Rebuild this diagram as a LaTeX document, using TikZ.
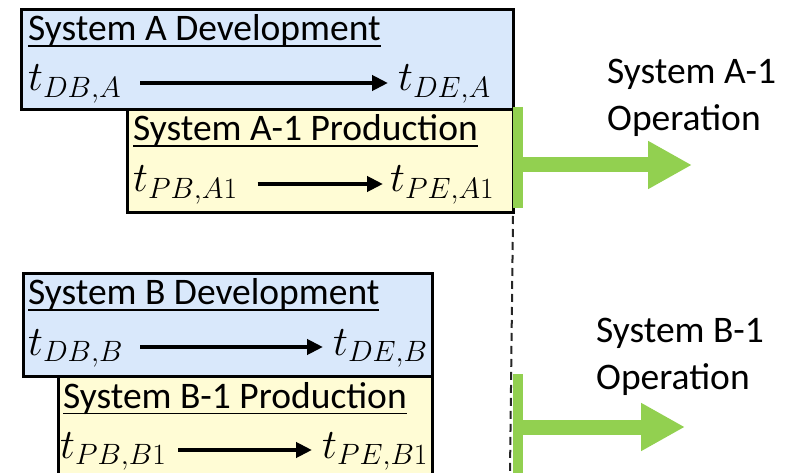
\documentclass[tikz,border=0pt]{standalone}
\usepackage{fix-cm}
\usepackage[no-math]{fontspec}
\setmainfont{Carlito}
\usetikzlibrary{arrows.meta}
% underlined heading, rule set close under the baseline
\newcommand{\rowtitle}[1]{\setbox0\hbox{#1}\rlap{\copy0}\rule[-6.3pt]{\wd0}{1.8pt}}
\tikzset{every node/.style={font=\fontsize{37.5}{45}\selectfont, inner sep=0pt}}
\definecolor{devcol}{RGB}{217,232,251}
\definecolor{prodcol}{RGB}{255,252,213}
\definecolor{opcol}{RGB}{146,208,80}
\colorlet{framecol}{black}
\colorlet{linecol}{black!85}

\tikzset{
  phase/.style={draw=framecol, line width=3pt, anchor=north west},
  devbox/.style={phase, fill=devcol},
  prodbox/.style={phase, fill=prodcol},
  title/.style={anchor=base west},
  stamp/.style={anchor=base west, font=\fontsize{42}{50}\selectfont},
  span/.style={-{Triangle[length=16pt,width=15pt]}, line width=4.5pt},
  opbar/.style={opcol, line width=10pt},
  oparrow/.style={opcol, line width=15pt, -{Triangle[length=44pt,width=45pt]}},
  oplabel/.style={align=left, anchor=north west, font=\fontsize{37.5}{46.5}\selectfont},
  timeline/.style={linecol, line width=2pt, dash pattern=on 8pt off 5pt}
}

\begin{document}
\begin{tikzpicture}[x=1pt, y=-1pt]

  \useasboundingbox (0,0) rectangle (793,473);
  \clip (0,0) rectangle (793,473);

  % System A: development and first production run.
  \node[devbox, minimum width=492, minimum height=100] (devA) at (20,8) {};
  \node[prodbox, minimum width=386, minimum height=103] (prodA) at (126,108) {};

  \node[title] (devAname) at (28,41) {\rowtitle{System A Development}};
  \node[stamp] (tDBA) at (28,91) {$t_{DB,A}$};
  \node[stamp] (tDEA) at (398,91) {$t_{DE,A}$};
  \draw[span, shorten <=19pt, shorten >=10pt]
    ([yshift=8pt]tDBA.base east) -- ([yshift=8pt]tDEA.base west);

  \node[title] (prodAname) at (133,141) {\rowtitle{System A-1 Production}};
  \node[stamp] (tPBA) at (133,192) {$t_{PB,A1}$};
  \node[stamp] (tPEA) at (390,192) {$t_{PE,A1}$};
  \draw[span, shorten <=20pt, shorten >=7pt]
    ([yshift=8pt]tPBA.base east) -- ([yshift=8pt]tPEA.base west);

  % System B: development and first production run.
  \node[devbox, minimum width=409, minimum height=103] (devB) at (22,272) {};
  \node[prodbox, minimum width=374, minimum height=130] (prodB) at (57,375) {};

  \node[title] (devBname) at (28,305) {\rowtitle{System B Development}};
  \node[stamp] (tDBB) at (28,355) {$t_{DB,B}$};
  \node[stamp] (tDEB) at (333,355) {$t_{DE,B}$};
  \draw[span, shorten <=17pt, shorten >=10pt]
    ([yshift=8pt]tDBB.base east) -- ([yshift=8pt]tDEB.base west);

  \node[title] (prodBname) at (63,408) {\rowtitle{System B-1 Production}};
  \node[stamp] (tPBB) at (60,458) {$t_{PB,B1}$};
  \node[stamp] (tPEB) at (322,458) {$t_{PE,B1}$};
  \draw[span, shorten <=12pt, shorten >=10pt]
    ([yshift=8pt]tPBB.base east) -- ([yshift=8pt]tPEB.base west);

  % Time line where production of A-1 ends.
  \coordinate (cutoff) at (510,473);
  \draw[timeline] ([xshift=-2pt,yshift=-2pt]prodA.south east) -- (cutoff);

  % Operation phases.
  \coordinate (opA) at (518,165);
  \coordinate (opAend) at (692,165);
  \draw[opbar] (518,107) -- (518,208);
  \draw[oparrow] (opA) -- (opAend);
  \node[oplabel] (opAname) at (607,59) {System A-1\\Operation};

  \coordinate (opB) at (518,427);
  \coordinate (opBend) at (685,427);
  \draw[opbar] (518,374) -- (518,480);
  \draw[oparrow] (opB) -- (opBend);
  \node[oplabel] (opBname) at (596,318) {System B-1\\Operation};

\end{tikzpicture}
\end{document}
